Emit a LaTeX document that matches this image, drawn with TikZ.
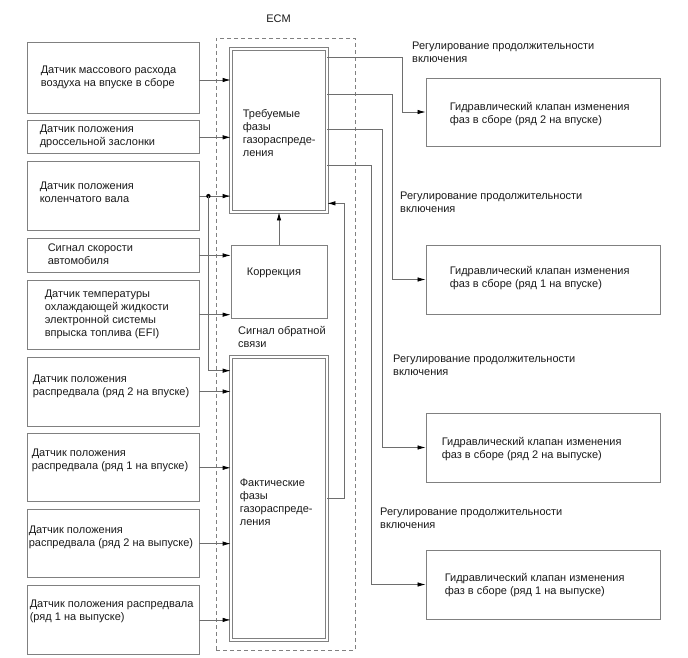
\documentclass[tikz,border=0pt]{standalone}
\usepackage{fontspec}
\setmainfont{Liberation Sans}
\usetikzlibrary{arrows.meta,calc,positioning}
\definecolor{boxgray}{HTML}{808080}
\definecolor{wiregray}{HTML}{6E6E6E}
\definecolor{inkgray}{HTML}{1A1A1A}

\begin{document}
\begin{tikzpicture}[x=1pt,y=-1pt,>={Latex[length=8pt,width=4.4pt,color=black]},node distance=7pt,
  sensor/.style={draw=boxgray,line width=0.8pt,minimum width=172pt,inner sep=0pt},
  valve/.style={draw=boxgray,line width=0.8pt,minimum width=234pt,minimum height=68pt,inner sep=0pt},
  unit/.style={draw=boxgray,line width=0.7pt,minimum width=96pt,inner sep=0pt},
  dunit/.style={unit,double=white,double distance=2.4pt},
  txt/.style={inner sep=0pt,align=left,text=inkgray,font=\fontsize{11}{13}\selectfont},
  wire/.style={draw=wiregray,line width=0.7pt}]
\useasboundingbox (0,0) rectangle (688,658);

% ECM frame
\node[draw=boxgray,line width=0.7pt,dash pattern=on 4pt off 3pt,minimum width=139pt,minimum height=612pt,inner sep=0pt] (ecm) at (285.5,344) {};
\node[txt] (ecmlbl) at (278.5,19) {ECM};

% sensors
\node[sensor,minimum height=71pt] (s1) at (113,77.5) {};
\node[sensor,minimum height=33pt,below=of s1] (s2) {};
\node[sensor,minimum height=69pt,below=of s2] (s3) {};
\node[sensor,minimum height=34pt,below=of s3] (s4) {};
\node[sensor,minimum height=69pt,below=of s4] (s5) {};
\node[sensor,minimum height=69pt,below=of s5] (s6) {};
\node[sensor,minimum height=68pt,below=of s6] (s7) {};
\node[sensor,minimum height=68pt,below=of s7] (s8) {};
\node[sensor,minimum height=69pt,below=of s8] (s9) {};

\node[txt,anchor=west] (t1) at ($(s1.west)+(14,-0.5)$) {Датчик массового расхода\\воздуха на впуске в сборе};
\node[txt,anchor=west] (t2) at ($(s2.west)+(13,-0.5)$) {Датчик положения\\дроссельной заслонки};
\node[txt,anchor=west] (t3) at ($(s3.west)+(13,-3.5)$) {Датчик положения\\коленчатого вала};
\node[txt,anchor=west] (t4) at ($(s4.west)+(21,-1)$) {Сигнал скорости\\автомобиля};
\node[txt,anchor=west] (t5) at ($(s5.west)+(18,0)$) {Датчик температуры\\охлаждающей жидкости\\электронной системы\\впрыска топлива (EFI)};
\node[txt,anchor=west] (t6) at ($(s6.west)+(6,-5.5)$) {Датчик положения\\распредвала (ряд 2 на впуске)};
\node[txt,anchor=west] (t7) at ($(s7.west)+(5,-7)$) {Датчик положения\\распредвала (ряд 1 на впуске)};
\node[txt,anchor=west] (t8) at ($(s8.west)+(2,-6)$) {Датчик положения\\распредвала (ряд 2 на выпуске)};
\node[txt,anchor=west] (t9) at ($(s9.west)+(3,-8.5)$) {Датчик положения распредвала\\(ряд 1 на выпуске)};

% ECM blocks
\node[dunit,minimum height=163pt] (req) at (279,130.5) {};
\node[unit,minimum height=73pt] (corr) at (279,281.5) {};
\node[dunit,minimum height=283pt] (act) at (279,498.5) {};
\node[txt,anchor=west] (treq) at ($(req.west)+(12,2.5)$) {Требуемые\\фазы\\газораспреде-\\ления};
\node[txt,anchor=west] (tcorr) at ($(corr.west)+(16,-8.5)$) {Коррекция};
\node[txt,anchor=west] (tact) at ($(act.west)+(9,3.5)$) {Фактические\\фазы\\газораспреде-\\ления};
\node[txt,anchor=west] (fblbl) at (238,336.5) {Сигнал обратной\\связи};

% valves
\node[valve] (v1) at (543,112) {};
\node[valve,minimum height=69pt] (v2) at (543,279.5) {};
\node[valve,minimum height=69pt] (v3) at (543,447.5) {};
\node[valve,minimum height=69pt] (v4) at (543,584.5) {};
\node[txt,anchor=west] (tv1) at ($(v1.west)+(24,2.5)$) {Гидравлический клапан изменения\\фаз в сборе (ряд 2 на впуске)};
\node[txt,anchor=west] (tv2) at ($(v2.west)+(24,-1)$) {Гидравлический клапан изменения\\фаз в сборе (ряд 1 на впуске)};
\node[txt,anchor=west] (tv3) at ($(v3.west)+(16,1.5)$) {Гидравлический клапан изменения\\фаз в сборе (ряд 2 на выпуске)};
\node[txt,anchor=west] (tv4) at ($(v4.west)+(19,1)$) {Гидравлический клапан изменения\\фаз в сборе (ряд 1 на выпуске)};

\node[txt,anchor=west] (d1) at (412,52.5) {Регулирование продолжительности\\включения};
\node[txt,anchor=west] (d2) at (400,202) {Регулирование продолжительности\\включения};
\node[txt,anchor=west] (d3) at (393,365.5) {Регулирование продолжительности\\включения};
\node[txt,anchor=west] (d4) at (380,518.5) {Регулирование продолжительности\\включения};

% inputs
\draw[wire,->] ($(s1.east)+(0,2.5)$) -- ($(s1.east -| req.west)+(0,2.5)$);
\foreach \s in {s2,s3}
  \draw[wire,->] (\s.east) -- (\s.east -| req.west);
\foreach \s in {s4,s5}
  \draw[wire,->] (\s.east) -- (\s.east -| corr.west);
\foreach \s in {s6,s7,s8,s9}
  \draw[wire,->] (\s.east) -- (\s.east -| act.west);
\coordinate (crk) at ($(s3.east)+(9,0)$);
\fill[black] (crk) circle (2.2pt);
\draw[wire,->] (crk) |- ($(act.north west)+(0,14)$);

% inside ECM
\draw[wire,->] (corr) -- (req);
\draw[wire,->] (act.east) -- ++(17,0) |- ($(req.south east)+(0,-9)$);

% outputs
\draw[wire,->] ($(req.north east)+(0,9)$) -| ($(v1.west)+(-23,0)$) -- (v1.west);
\draw[wire,->] ($(req.north east)+(0,46)$) -| ($(v2.west)+(-33,0)$) -- (v2.west);
\draw[wire,->] ($(req.north east)+(0,81)$) -| ($(v3.west)+(-43,0)$) -- (v3.west);
\draw[wire,->] ($(req.north east)+(0,117)$) -| ($(v4.west)+(-54,0)$) -- (v4.west);
\end{tikzpicture}
\end{document}
